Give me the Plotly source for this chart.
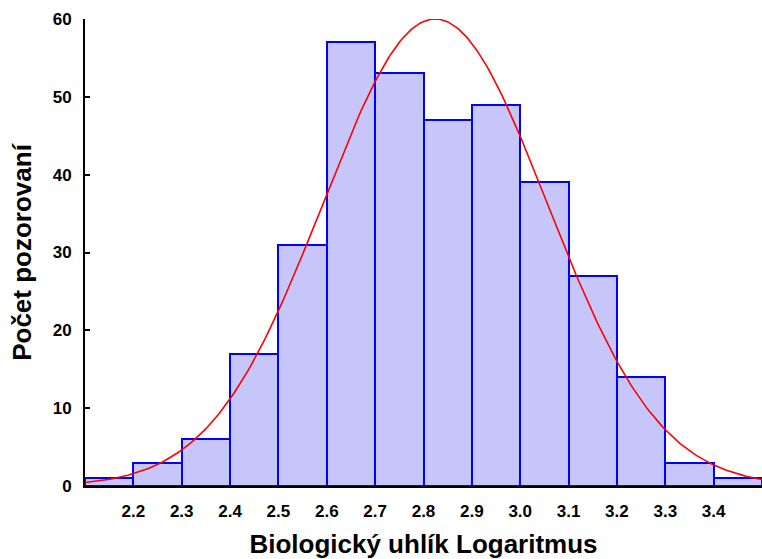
import numpy as np
import plotly.graph_objects as go

bin_left = [2.1, 2.2, 2.3, 2.4, 2.5, 2.6, 2.7, 2.8, 2.9, 3.0, 3.1, 3.2, 3.3, 3.4]
counts = [1, 3, 6, 17, 31, 57, 53, 47, 49, 39, 27, 14, 3, 1]
bin_width = 0.1
fit_mean = 2.824
fit_sd = 0.2314
x_ticks = [2.2, 2.3, 2.4, 2.5, 2.6, 2.7, 2.8, 2.9, 3.0, 3.1, 3.2, 3.3, 3.4]
y_ticks = [0, 10, 20, 30, 40, 50, 60]

n_total = sum(counts)
centers = [b + bin_width / 2 for b in bin_left]
xc = np.linspace(2.1, 3.5, 300)
yc = n_total * bin_width / (fit_sd * np.sqrt(2 * np.pi)) * np.exp(-0.5 * ((xc - fit_mean) / fit_sd) ** 2)

fig = go.Figure()
fig.add_trace(go.Bar(
    x=centers, y=counts, width=bin_width,
    marker=dict(color="rgb(198,198,250)", line=dict(color="#0000FF", width=2)),
    hoverinfo="x+y",
))
fig.add_trace(go.Scatter(x=xc, y=yc, mode="lines", line=dict(color="#FF0000", width=1.6)))

font_fam = "Liberation Sans, Arial, sans-serif"
fig.update_layout(
    width=762, height=559,
    margin=dict(l=85, r=0, t=19, b=73),
    paper_bgcolor="white", plot_bgcolor="white",
    showlegend=False, bargap=0,
    font=dict(family=font_fam, color="black", size=17, weight="bold"),
    xaxis=dict(
        range=[2.1, 3.5], tickvals=x_ticks, ticktext=[f"{v:.1f}" for v in x_ticks],
        showgrid=False, zeroline=False, ticks="", ticklabelstandoff=9,
        showline=True, linecolor="black", linewidth=2,
        tickfont=dict(size=17, weight="bold"),
        title=dict(text="Biologický uhlík Logaritmus", font=dict(size=26, weight="bold"), standoff=14),
    ),
    yaxis=dict(
        range=[0, 60], tickvals=y_ticks, showgrid=False, zeroline=False,
        ticks="inside", ticklen=5, tickwidth=2, tickcolor="black",
        showline=True, linecolor="black", linewidth=2,
        tickfont=dict(size=17, weight="bold"), ticklabelstandoff=8,
        title=dict(text="Počet pozorovaní", font=dict(size=26, weight="bold"), standoff=14),
    ),
)
fig.write_html("out.html")
